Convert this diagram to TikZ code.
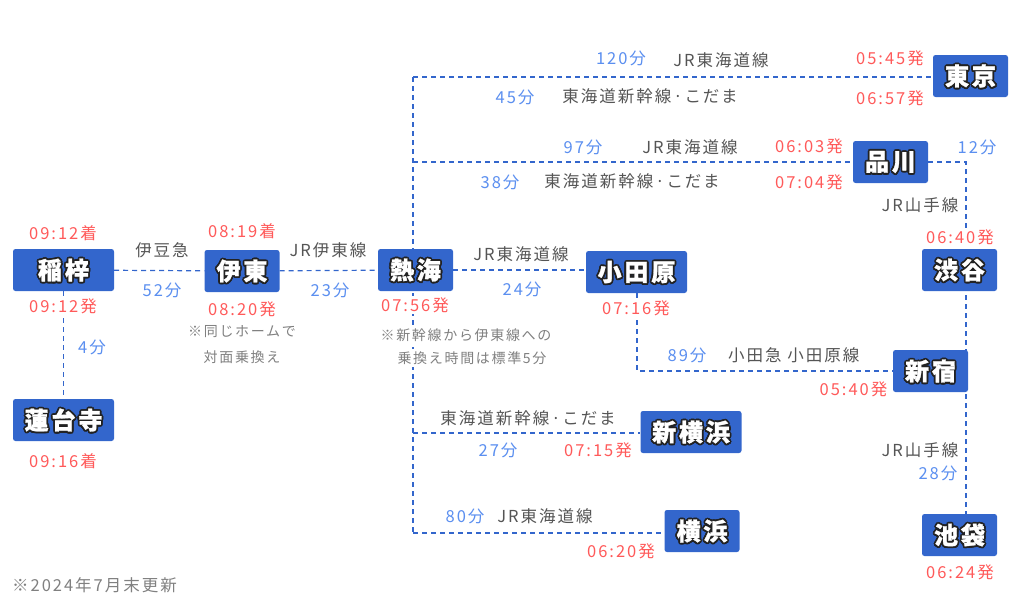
\documentclass[tikz,border=0pt]{standalone}
\usepackage{fontspec}
\setmainfont{Noto Sans CJK JP}[LetterSpace=12]
\usetikzlibrary{backgrounds}
\definecolor{stnblue}{HTML}{3366CC}
\definecolor{linec}{HTML}{3366CC}
\definecolor{tred}{HTML}{FF5A5A}
\definecolor{tblue}{HTML}{5B8FF0}
\definecolor{tgray}{HTML}{555555}
\definecolor{ngray}{HTML}{808080}
\definecolor{ink}{HTML}{222222}
\newcommand\soff[3]{\makebox[0pt][l]{\hspace*{#1}\raisebox{#2}{\textcolor{ink}{#3}}}}
\newcommand\stnt[1]{\soff{1.8pt}{0pt}{#1}\soff{-1.8pt}{0pt}{#1}\soff{0pt}{1.8pt}{#1}\soff{0pt}{-1.8pt}{#1}\soff{1.3pt}{1.3pt}{#1}\soff{-1.3pt}{1.3pt}{#1}\soff{1.3pt}{-1.3pt}{#1}\soff{-1.3pt}{-1.3pt}{#1}\soff{0.9pt}{-1.7pt}{#1}\soff{-0.9pt}{-1.7pt}{#1}\textcolor{white}{#1}}
\newcommand\stnfont{\fontsize{24}{24}\selectfont\bfseries\addfontfeature{FakeBold=1.2}}
\newcommand\lbfont{\fontsize{16.5}{16.5}\selectfont}
\newcommand\ntfont{\fontsize{14}{14}\selectfont}
\tikzset{
  stn/.style={fill=stnblue, rounded corners=2.5pt, minimum height=42pt, minimum width=75pt, inner sep=0pt, font=\stnfont},
  wide/.style={minimum width=101pt},
  lb/.style={inner sep=1.5pt, fill=white, font=\lbfont, text=tgray},
  tm/.style={lb, text=tred},
  mn/.style={lb, text=tblue},
  nt/.style={inner sep=2pt, fill=white, font=\ntfont, text=ngray},
  rail/.style={draw=linec, line width=1.2pt, dash pattern=on 5pt off 4pt}
}
\begin{document}
\begin{tikzpicture}[x=1pt,y=-1pt]
\useasboundingbox (0,0) rectangle (1020,600);
% stations
\node[stn,wide] (inaba) at (63.5,270) {\stnt{稲梓}};
\node[stn,wide] (rendaiji) at (63.5,420) {\stnt{蓮台寺}};
\node[stn] (ito) at (242,271) {\stnt{伊東}};
\node[stn] (atami) at (415.5,270) {\stnt{熱海}};
\node[stn,wide] (odawara) at (636.5,272) {\stnt{小田原}};
\node[stn] (tokyo) at (970.5,76) {\stnt{東京}};
\node[stn] (shinagawa) at (890.5,162) {\stnt{品川}};
\node[stn] (shibuya) at (959.5,270) {\stnt{渋谷}};
\node[stn] (shinjuku) at (930.5,371) {\stnt{新宿}};
\node[stn] (ikebukuro) at (959.5,535) {\stnt{池袋}};
\node[stn,wide] (shinyoko) at (691,432) {\stnt{新横浜}};
\node[stn] (yokohama) at (702,531) {\stnt{横浜}};
% connector coordinates
\coordinate (tt) at (413,77);
\coordinate (tb) at (413,533);
\coordinate (ts) at (413,162);
\coordinate (tn) at (413,433);
\coordinate (yc) at (966,162);
\coordinate (yb) at (966,514);
\coordinate (oc) at (637,371);
\begin{scope}[on background layer]
\draw[rail] (inaba) -- (ito);
\draw[rail] (ito) -- (atami);
\draw[rail] (atami) -- (odawara.west |- atami);
\draw[rail] (inaba) -- (rendaiji);
\draw[rail] (tt) -- (tb);
\draw[rail] (tt) -- (tokyo.west |- tt);
\draw[rail] (ts) -- (shinagawa);
\draw[rail] (tn) -- (shinyoko.west |- tn);
\draw[rail] (tb) -- (yokohama.west |- tb);
\draw[rail] (shinagawa) -- (yc) -- (yb);
\draw[rail] (odawara.south -| oc) -- (oc) -- (shinjuku.west |- oc);
\end{scope}
% labels left part
\node[tm] (t1) at (63,233) {09:12着};
\node[tm] (t2) at (63,306) {09:12発};
\node[lb] (l1) at (162,250) {伊豆急};
\node[mn] (m1) at (162,290) {52分};
\node[tm] (t3) at (242,231) {08:19着};
\node[tm] (t4) at (242,309) {08:20発};
\node[nt] (n1) at (242,332) {※同じホームで};
\node[nt] (n2) at (242,357) {対面乗換え};
\node[lb] (l2) at (328,250) {JR伊東線};
\node[mn] (m2) at (330,290) {23分};
\node[mn] (m3) at (92,347) {4分};
\node[tm] (t5) at (63,461) {09:16着};
\node[tm] (t6) at (415,305) {07:56発};
\node[nt] (n3) at (466,335) {※新幹線から伊東線への};
\node[nt] (n4) at (472,358) {乗換え時間は標準5分};
\node[lb] (l3) at (521,254) {JR東海道線};
\node[mn] (m4) at (522,289) {24分};
\node[tm] (t7) at (636,308) {07:16発};
% upper routes
\node[mn] (m5) at (621,58) {120分};
\node[lb] (l4) at (721,60) {JR東海道線};
\node[mn] (m6) at (515,97) {45分};
\node[lb] (l5) at (650,96) {東海道新幹線·こだま};
\node[tm] (t8) at (890,58) {05:45発};
\node[tm] (t9) at (890,98) {06:57発};
\node[mn] (m7) at (583,147) {97分};
\node[lb] (l6) at (690,147) {JR東海道線};
\node[mn] (m8) at (500,182) {38分};
\node[lb] (l7) at (632,181) {東海道新幹線·こだま};
\node[tm] (t10) at (809,146) {06:03発};
\node[tm] (t11) at (809,182) {07:04発};
\node[mn] (m9) at (977,147) {12分};
\node[lb,anchor=east] (l8) at (960,205) {JR山手線};
\node[tm] (t12) at (960,237) {06:40発};
% Odakyu
\node[mn] (m10) at (687,355) {89分};
\node[lb,anchor=east] (l9) at (861,355) {小田急 小田原線};
\node[tm,anchor=east] (t13) at (889,389) {05:40発};
\node[lb,anchor=east] (l10) at (960,450) {JR山手線};
\node[mn,anchor=east] (m11) at (959,473) {28分};
\node[tm] (t14) at (960,572) {06:24発};
% lower routes
\node[lb] (l11) at (528,418) {東海道新幹線·こだま};
\node[mn] (m12) at (498,450) {27分};
\node[tm] (t15) at (598,450) {07:15発};
\node[mn] (m13) at (465,516) {80分};
\node[lb] (l12) at (545,516) {JR東海道線};
\node[tm] (t16) at (621,551) {06:20発};
\node[lb,text=ngray,anchor=west] (upd) at (10.5,585) {※2024年7月末更新};
\end{tikzpicture}
\end{document}
